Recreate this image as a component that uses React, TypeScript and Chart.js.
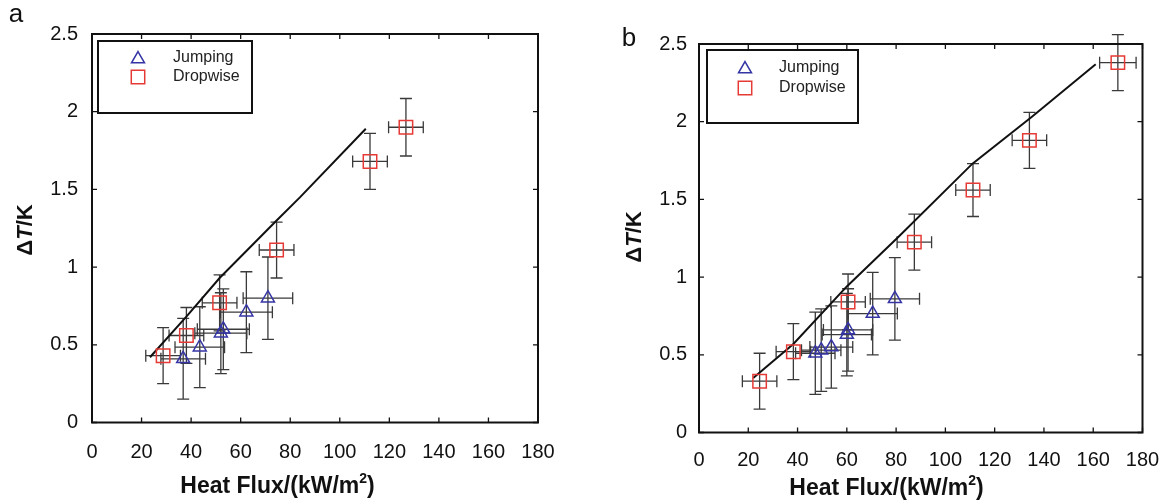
import React, { useEffect, useRef } from "react";
import { Chart, registerables } from "chart.js";

Chart.register(...registerables);

const FONT = "'Liberation Sans', Arial, Helvetica, sans-serif";

// ---- shared axes ----
const xTickValues = [0, 20, 40, 60, 80, 100, 120, 140, 160, 180];
const xTickLabels = ["0", "20", "40", "60", "80", "100", "120", "140", "160", "180"];
const yTickValues = [0, 0.5, 1, 1.5, 2, 2.5];
const yTickLabels = ["0", "0.5", "1", "1.5", "2", "2.5"];
const seriesNames = ["Jumping", "Dropwise"];
const xTitleParts = ["Heat Flux/(kW/m", "2", ")"];
const yTitleParts = ["\u0394", "T", "/K"];

// ---- panel a ----
const aJumpX = [36.8, 43.5, 52, 53, 62.3, 71];
const aJumpY = [0.41, 0.485, 0.575, 0.6, 0.71, 0.8];
const aJumpXErr = [9, 10, 10.5, 10.5, 10.5, 10];
const aJumpYErr = [0.26, 0.26, 0.26, 0.26, 0.26, 0.265];
const aDropX = [28.7, 38.1, 51.5, 74.5, 112.2, 126.7];
const aDropY = [0.43, 0.56, 0.77, 1.11, 1.68, 1.9];
const aDropXErr = [7, 7, 7, 7, 7, 7];
const aDropYErr = [0.18, 0.18, 0.18, 0.18, 0.18, 0.185];
const aFitX = [23.4, 38, 51.5, 74.5, 84, 110.5];
const aFitY = [0.42, 0.68, 0.93, 1.3, 1.45, 1.89];

// ---- panel b ----
const bJumpX = [47.2, 49.6, 53.7, 60, 60.5, 70.5, 79.5];
const bJumpY = [0.51, 0.53, 0.55, 0.63, 0.66, 0.765, 0.86];
const bJumpXErr = [8, 8, 8.7, 10, 10, 10, 10];
const bJumpYErr = [0.265, 0.265, 0.265, 0.265, 0.265, 0.265, 0.265];
const bDropX = [24.6, 38.3, 60.5, 87.4, 111.2, 134.1, 170];
const bDropY = [0.33, 0.52, 0.84, 1.225, 1.56, 1.88, 2.38];
const bDropXErr = [7, 7, 7, 7, 7, 7, 7.4];
const bDropYErr = [0.18, 0.18, 0.18, 0.18, 0.17, 0.18, 0.18];
const bFitX = [22, 38.3, 60, 81, 111, 135, 161];
const bFitY = [0.35, 0.57, 0.94, 1.26, 1.73, 2.03, 2.37];

const JUMP_COLOR = "#3535a5";
const DROP_COLOR = "#e53a35";

type PanelData = {
  letter: string;
  jumpX: number[]; jumpY: number[]; jumpXErr: number[]; jumpYErr: number[];
  dropX: number[]; dropY: number[]; dropXErr: number[]; dropYErr: number[];
  fitX: number[]; fitY: number[];
};

type PanelLayout = {
  canvasLeft: number; width: number; height: number;
  area: { left: number; right: number; top: number; bottom: number };
  yTickPad: number; xTickPad: number;
  yTitle: [number, number]; xTitle: [number, number];
  letterPos: [number, number];
  legendBox: [number, number, number, number];
  legendMarkerX: number; legendTextX: number; legendRows: [number, number];
};

const panelA: PanelData = {
  letter: "a",
  jumpX: aJumpX, jumpY: aJumpY, jumpXErr: aJumpXErr, jumpYErr: aJumpYErr,
  dropX: aDropX, dropY: aDropY, dropXErr: aDropXErr, dropYErr: aDropYErr,
  fitX: aFitX, fitY: aFitY,
};
const panelB: PanelData = {
  letter: "b",
  jumpX: bJumpX, jumpY: bJumpY, jumpXErr: bJumpXErr, jumpYErr: bJumpYErr,
  dropX: bDropX, dropY: bDropY, dropXErr: bDropXErr, dropYErr: bDropYErr,
  fitX: bFitX, fitY: bFitY,
};

const layoutA: PanelLayout = {
  canvasLeft: 0, width: 588, height: 504,
  area: { left: 92, right: 538, top: 34, bottom: 422.5 },
  yTickPad: 14, xTickPad: 18,
  yTitle: [26, 230], xTitle: [277.5, 487],
  letterPos: [16, 15],
  legendBox: [98, 41, 154, 72],
  legendMarkerX: 138, legendTextX: 173, legendRows: [58, 77],
};
const layoutB: PanelLayout = {
  canvasLeft: 588, width: 588, height: 504,
  area: { left: 111, right: 554.5, top: 44, bottom: 432.5 },
  yTickPad: 12, xTickPad: 16,
  yTitle: [47, 237], xTitle: [298.5, 489],
  letterPos: [41, 39],
  legendBox: [119, 50, 151, 73],
  legendMarkerX: 157, legendTextX: 191, legendRows: [68, 88],
};

function drawTriangle(ctx: CanvasRenderingContext2D, x: number, y: number, r: number) {
  let rad = 0;
  ctx.beginPath();
  ctx.moveTo(x + Math.sin(rad) * r, y - Math.cos(rad) * r);
  rad += (2 * Math.PI) / 3;
  ctx.lineTo(x + Math.sin(rad) * r, y - Math.cos(rad) * r);
  rad += (2 * Math.PI) / 3;
  ctx.lineTo(x + Math.sin(rad) * r, y - Math.cos(rad) * r);
  ctx.closePath();
  ctx.stroke();
}

function drawSquare(ctx: CanvasRenderingContext2D, x: number, y: number, r: number) {
  const s = Math.SQRT1_2 * r;
  ctx.beginPath();
  ctx.rect(x - s, y - s, 2 * s, 2 * s);
  ctx.stroke();
}

type Run = { text: string; font: string; dy?: number };
function drawRuns(ctx: CanvasRenderingContext2D, runs: Run[], cx: number, cy: number, rotate: boolean) {
  ctx.save();
  ctx.translate(cx, cy);
  if (rotate) ctx.rotate(-Math.PI / 2);
  let total = 0;
  runs.forEach((r) => { ctx.font = r.font; total += ctx.measureText(r.text).width; });
  let x = -total / 2;
  ctx.textBaseline = "middle";
  ctx.textAlign = "left";
  ctx.fillStyle = "#111";
  runs.forEach((r) => {
    ctx.font = r.font;
    ctx.fillText(r.text, x, r.dy || 0);
    x += ctx.measureText(r.text).width;
  });
  ctx.restore();
}

const decorPlugin = {
  id: "figDecor",
  beforeDatasetsDraw(chart: any) {
    const ctx: CanvasRenderingContext2D = chart.ctx;
    const xs = chart.scales.x;
    const ys = chart.scales.y;
    ctx.save();
    ctx.strokeStyle = "#3a3a3a";
    ctx.lineWidth = 1.3;
    const cap = 6;
    chart.data.datasets.forEach((ds: any) => {
      if (!ds.errX) return;
      ds.data.forEach((p: any, i: number) => {
        const px = xs.getPixelForValue(p.x);
        const py = ys.getPixelForValue(p.y);
        const x1 = xs.getPixelForValue(p.x - ds.errX[i]);
        const x2 = xs.getPixelForValue(p.x + ds.errX[i]);
        const y1 = ys.getPixelForValue(p.y - ds.errY[i]);
        const y2 = ys.getPixelForValue(p.y + ds.errY[i]);
        ctx.beginPath();
        ctx.moveTo(x1, py); ctx.lineTo(x2, py);
        ctx.moveTo(x1, py - cap); ctx.lineTo(x1, py + cap);
        ctx.moveTo(x2, py - cap); ctx.lineTo(x2, py + cap);
        ctx.moveTo(px, y1); ctx.lineTo(px, y2);
        ctx.moveTo(px - cap, y1); ctx.lineTo(px + cap, y1);
        ctx.moveTo(px - cap, y2); ctx.lineTo(px + cap, y2);
        ctx.stroke();
      });
    });
    ctx.restore();
  },
  afterDraw(chart: any, _args: any, opts: any) {
    const L: PanelLayout = opts.layout;
    const D: PanelData = opts.data;
    const ctx: CanvasRenderingContext2D = chart.ctx;
    const xs = chart.scales.x;
    const ys = chart.scales.y;
    const { left, right, top, bottom } = chart.chartArea;
    ctx.save();
    // frame
    ctx.strokeStyle = "#111";
    ctx.lineWidth = 2;
    ctx.strokeRect(left, top, right - left, bottom - top);
    // inward ticks
    ctx.lineWidth = 1.3;
    ctx.beginPath();
    xs.ticks.forEach((t: any) => {
      const px = xs.getPixelForValue(t.value);
      ctx.moveTo(px, bottom); ctx.lineTo(px, bottom - 5);
      ctx.moveTo(px, top); ctx.lineTo(px, top + 5);
    });
    ys.ticks.forEach((t: any) => {
      const py = ys.getPixelForValue(t.value);
      ctx.moveTo(left, py); ctx.lineTo(left + 5, py);
      ctx.moveTo(right, py); ctx.lineTo(right - 5, py);
    });
    ctx.stroke();
    // legend
    const [bx, by, bw, bh] = L.legendBox;
    ctx.lineWidth = 2;
    ctx.strokeStyle = "#111";
    ctx.strokeRect(bx, by, bw, bh);
    ctx.lineWidth = 1.5;
    ctx.strokeStyle = JUMP_COLOR;
    drawTriangle(ctx, L.legendMarkerX, L.legendRows[0] + 1, 7.5);
    ctx.strokeStyle = DROP_COLOR;
    drawSquare(ctx, L.legendMarkerX, L.legendRows[1], 9.5);
    ctx.fillStyle = "#222";
    ctx.font = `16px ${FONT}`;
    ctx.textBaseline = "middle";
    ctx.textAlign = "left";
    ctx.fillText(seriesNames[0], L.legendTextX, L.legendRows[0]);
    ctx.fillText(seriesNames[1], L.legendTextX, L.legendRows[1]);
    // panel letter
    ctx.font = `26px ${FONT}`;
    ctx.textAlign = "center";
    ctx.fillStyle = "#111";
    ctx.fillText(D.letter, L.letterPos[0], L.letterPos[1]);
    ctx.restore();
    // axis titles
    drawRuns(ctx, [
      { text: xTitleParts[0], font: `bold 23px ${FONT}` },
      { text: xTitleParts[1], font: `bold 14px ${FONT}`, dy: -8 },
      { text: xTitleParts[2], font: `bold 23px ${FONT}` },
    ], L.xTitle[0], L.xTitle[1], false);
    drawRuns(ctx, [
      { text: yTitleParts[0], font: `bold 22px ${FONT}` },
      { text: yTitleParts[1], font: `italic bold 22px ${FONT}` },
      { text: yTitleParts[2], font: `bold 22px ${FONT}` },
    ], L.yTitle[0], L.yTitle[1], true);
  },
};

function toPoints(xs: number[], ys: number[]) {
  return xs.map((x, i) => ({ x, y: ys[i] }));
}

function Panel({ data, layout }: { data: PanelData; layout: PanelLayout }) {
  const ref = useRef<HTMLCanvasElement | null>(null);
  useEffect(() => {
    if (!ref.current) return;
    const A = layout.area;
    const chart = new Chart(ref.current, {
      type: "scatter",
      data: {
        datasets: [
          {
            label: seriesNames[0],
            data: toPoints(data.jumpX, data.jumpY),
            errX: data.jumpXErr, errY: data.jumpYErr,
            pointStyle: "triangle", pointRadius: 7.5,
            borderColor: JUMP_COLOR, backgroundColor: "rgba(0,0,0,0)",
            pointBorderWidth: 1.5, showLine: false, order: 1,
          } as any,
          {
            label: seriesNames[1],
            data: toPoints(data.dropX, data.dropY),
            errX: data.dropXErr, errY: data.dropYErr,
            pointStyle: "rect", pointRadius: 9.5,
            borderColor: DROP_COLOR, backgroundColor: "rgba(0,0,0,0)",
            pointBorderWidth: 1.5, showLine: false, order: 2,
          } as any,
          {
            label: "fit",
            data: toPoints(data.fitX, data.fitY),
            showLine: true, pointRadius: 0, borderColor: "#111",
            borderWidth: 2, tension: 0, order: 3,
          } as any,
        ],
      },
      options: {
        responsive: false,
        animation: false,
        events: [],
        devicePixelRatio: 1,
        layout: {
          padding: { left: 0, top: A.top, right: layout.width - A.right, bottom: 0 },
        },
        plugins: {
          legend: { display: false },
          tooltip: { enabled: false },
          figDecor: { layout, data },
        } as any,
        scales: {
          x: {
            type: "linear", position: "bottom", min: 0, max: 180,
            afterBuildTicks: (s: any) => { s.ticks = xTickValues.map((v) => ({ value: v })); },
            afterFit: (s: any) => { s.height = layout.height - A.bottom; },
            ticks: {
              padding: layout.xTickPad, color: "#111", maxRotation: 0, autoSkip: false,
              font: { family: FONT, size: 20 },
              callback: (_v: any, i: number) => xTickLabels[i],
            },
            grid: { display: false, drawTicks: false },
            border: { display: false },
          },
          y: {
            type: "linear", position: "left", min: 0, max: 2.5,
            afterBuildTicks: (s: any) => { s.ticks = yTickValues.map((v) => ({ value: v })); },
            afterFit: (s: any) => { s.width = A.left; },
            ticks: {
              padding: layout.yTickPad, color: "#111",
              font: { family: FONT, size: 20 },
              callback: (_v: any, i: number) => yTickLabels[i],
            },
            grid: { display: false, drawTicks: false },
            border: { display: false },
          },
        },
      } as any,
      plugins: [decorPlugin as any],
    });
    return () => chart.destroy();
  }, [data, layout]);
  return (
    <canvas
      ref={ref}
      width={layout.width}
      height={layout.height}
      style={{ position: "absolute", left: layout.canvasLeft, top: 0, width: layout.width, height: layout.height }}
    />
  );
}

export default function App() {
  return (
    <div style={{ position: "absolute", left: 0, top: 0, width: 1176, height: 504, background: "#fff" }}>
      <Panel data={panelA} layout={layoutA} />
      <Panel data={panelB} layout={layoutB} />
    </div>
  );
}
